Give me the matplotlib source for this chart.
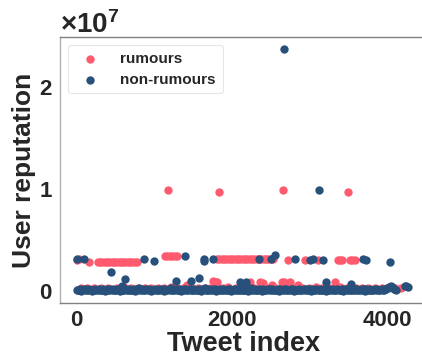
import matplotlib
matplotlib.use("Agg")
import matplotlib.pyplot as plt
from matplotlib.ticker import ScalarFormatter

plt.rcParams['font.family'] = ['Liberation Sans', 'DejaVu Sans']
plt.rcParams['font.weight'] = 'bold'
plt.rcParams['axes.labelweight'] = 'bold'
plt.rcParams['mathtext.fontset'] = 'custom'
plt.rcParams['mathtext.rm'] = 'Liberation Sans:bold'
plt.rcParams['mathtext.bf'] = 'Liberation Sans:bold'
plt.rcParams['mathtext.default'] = 'bf'
TEXT = '#262626'
plt.rcParams['text.color'] = TEXT
plt.rcParams['axes.labelcolor'] = TEXT
plt.rcParams['xtick.color'] = TEXT
plt.rcParams['ytick.color'] = TEXT

# ---------------- data ----------------
# rumours: (tweet index, user reputation)
rum_high = [(1178, 9.9e6), (1836, 9.7e6), (2662, 9.9e6), (3493, 9.7e6)]
rum_band = [(0, 3.05e6), (30, 3.1e6), (155, 2.85e6),
            (270, 2.85e6), (300, 2.85e6), (330, 2.85e6), (360, 2.85e6),
            (390, 2.85e6), (420, 2.85e6), (450, 2.85e6), (480, 2.85e6),
            (510, 2.85e6), (540, 2.85e6), (570, 2.85e6), (600, 2.85e6),
            (630, 2.85e6), (660, 2.85e6), (690, 2.85e6), (720, 2.85e6),
            (750, 2.85e6), (775, 2.85e6),
            (1135, 3.45e6), (1170, 3.45e6), (1200, 3.45e6), (1235, 3.45e6),
            (1265, 3.45e6), (1290, 3.45e6),
            (1806, 3.15e6), (1840, 3.15e6), (1870, 3.15e6), (1900, 3.15e6),
            (1930, 3.15e6), (1960, 3.15e6), (1990, 3.15e6), (2020, 3.15e6),
            (2050, 3.15e6), (2080, 3.15e6), (2110, 3.15e6), (2140, 3.15e6),
            (2170, 3.15e6), (2200, 3.15e6), (2230, 3.15e6), (2260, 3.15e6),
            (2290, 3.15e6), (2320, 3.15e6), (2350, 3.15e6), (2380, 3.15e6),
            (2410, 3.15e6), (2440, 3.15e6), (2470, 3.15e6), (2500, 3.15e6),
            (2530, 3.15e6),
            (2722, 3.05e6), (2940, 3.05e6), (3110, 3.05e6), (3367, 3.05e6),
            (3400, 3.05e6), (3420, 3.05e6), (3522, 3.05e6), (3555, 3.05e6),
            (3587, 3.05e6)]
rum_mid = [(1755, 0.95e6), (1790, 0.85e6), (1806, 0.8e6), (2232, 0.85e6),
           (2361, 0.85e6), (2400, 0.75e6), (2516, 0.55e6), (2645, 0.85e6),
           (2670, 0.85e6), (2748, 0.85e6), (2851, 0.55e6), (3329, 0.85e6),
           (1420, 0.55e6)]
rum_low = [(60, 2.5e5), (140, 3.0e5), (230, 2.5e5), (320, 2.8e5), (410, 3.0e5),
           (520, 2.6e5), (610, 3.2e5), (700, 2.5e5), (790, 3.0e5), (880, 2.7e5),
           (960, 2.5e5), (1050, 3.0e5), (1130, 2.8e5), (1220, 3.3e5),
           (1310, 2.6e5), (1400, 3.5e5), (1480, 2.8e5), (1560, 3.0e5),
           (1650, 2.5e5), (1720, 3.0e5), (1880, 2.8e5), (1950, 3.2e5),
           (2050, 2.6e5), (2120, 3.0e5), (2290, 2.8e5), (2450, 3.0e5),
           (2560, 2.7e5), (2700, 3.1e5), (2800, 2.6e5), (2900, 3.0e5),
           (3000, 2.9e5), (3080, 3.3e5), (3160, 2.6e5), (3250, 3.0e5),
           (3300, 2.7e5), (3400, 3.2e5), (3480, 2.8e5), (3600, 3.0e5),
           (3680, 2.5e5), (3760, 2.8e5), (3850, 2.6e5), (3930, 3.0e5),
           (4010, 2.5e5), (4100, 2.8e5), (4180, 3.0e5)]

# non-rumours: (tweet index, user reputation)
non_high = [(2671, 2.37e7), (3118, 9.9e6)]
non_band = [(4, 3.1e6), (90, 3.1e6), (864, 3.1e6), (993, 2.9e6),
            (1393, 3.45e6), (1638, 3.1e6), (1645, 2.9e6), (1755, 3.1e6),
            (2348, 3.1e6), (2503, 3.1e6), (2555, 3.5e6), (2813, 3.1e6),
            (3006, 3.0e6), (3045, 3.1e6), (3174, 3.0e6), (3690, 3.1e6),
            (3729, 3.0e6), (4039, 2.85e6)]
non_mid = [(439, 1.8e6), (619, 1.15e6), (1277, 0.95e6), (1471, 0.95e6),
           (1574, 1.2e6), (2103, 0.85e6), (2180, 0.85e6), (3213, 0.85e6),
           (3535, 0.7e6), (580, 0.5e6), (4232, 4.5e5), (4250, 5.0e5),
           (4270, 4.0e5)]
# dense low band: one sample every 15 tweets, reputation in units of 1e5
non_low_e5 = [
    0.2, 1.0, 0.4, 1.6, 0.1, 0.8, 1.2, 0.3, 1.9, 0.6, 0.2, 1.4, 0.9, 0.1, 1.1,
    0.5, 1.7, 0.3, 0.8, 1.3, 0.2, 1.0, 0.6, 1.8, 0.1, 0.9, 1.5, 0.4, 0.7, 1.2,
    0.3, 2.0, 0.5, 1.1, 0.2, 1.6, 0.8, 0.1, 1.3, 0.6, 1.0, 0.3, 1.7, 0.4, 0.9,
    1.4, 0.2, 1.1, 0.7, 1.9, 0.1, 0.8, 1.2, 0.5, 2.6, 0.3, 1.0, 1.5, 0.2, 0.9,
    1.3, 0.4, 1.7, 0.6, 0.1, 1.1, 0.8, 1.4, 0.3, 1.0, 0.5, 1.8, 0.2, 1.2, 0.7,
    0.1, 1.6, 0.9, 0.4, 1.3, 0.6, 2.1, 0.2, 1.0, 0.5, 1.4, 0.3, 1.1, 0.8, 1.7,
    0.1, 0.9, 1.2, 0.4, 1.5, 0.7, 0.2, 1.3, 0.6, 1.0, 0.3, 1.8, 0.5, 1.1, 0.2,
    1.6, 0.8, 0.1, 1.2, 0.4, 2.4, 0.6, 1.0, 0.3, 1.5, 0.7, 0.2, 1.3, 0.9, 1.7,
    0.1, 1.1, 0.5, 1.4, 0.3, 0.8, 1.9, 0.2, 1.0, 0.6, 1.2, 0.4, 1.6, 0.1, 0.9,
    1.3, 0.5, 1.8, 0.3, 1.1, 0.7, 0.2, 1.5, 0.8, 1.0, 0.4, 1.7, 0.1, 1.2, 0.6,
    2.2, 0.3, 0.9, 1.4, 0.2, 1.1, 0.5, 1.6, 0.8, 0.1, 1.3, 0.4, 1.0, 0.7, 1.8,
    0.2, 1.2, 0.5, 1.5, 0.3, 0.9, 1.1, 0.6, 2.0, 0.1, 1.4, 0.8, 0.3, 1.2, 0.5,
    1.7, 0.2, 1.0, 0.6, 1.3, 0.4, 1.9, 0.1, 0.8, 1.1, 0.5, 1.5, 0.3, 1.0, 0.7,
    1.6, 0.2, 1.2, 0.4, 0.9, 1.4, 0.1, 1.8, 0.6, 1.1, 0.3, 1.3, 0.8, 0.2, 1.7,
    0.5, 1.0, 0.4, 1.5, 0.1, 1.2, 0.7, 1.9, 0.3, 0.9, 1.4, 0.2, 1.1, 0.6, 1.6,
    0.4, 1.0, 0.8, 1.3, 0.1, 1.5, 0.5, 1.2, 0.3, 1.8, 0.7, 0.2, 1.1, 0.9, 1.4,
    0.3, 1.6, 0.6, 1.0, 0.2, 1.3, 0.5, 1.7, 0.1, 1.2, 0.8, 0.4, 1.5, 0.6, 1.0,
    0.3, 1.4, 0.7, 1.9, 0.2, 1.1, 0.5, 1.6, 0.9, 0.3, 1.3, 1.8, 2.5, 3.2, 3.8,
    4.2, 3.6, 2.4, 1.5, 0.8]
non_low_idx = list(range(0, 15 * len(non_low_e5), 15))
non_low_val = [v * 1e5 for v in non_low_e5]

labels = ["rumours", "non-rumours"]
colors = ["#FF5A6E", "#27507A"]

# ---------------- plot ----------------
rum_pts = rum_high + rum_band + rum_mid + rum_low
non_pts = non_high + non_band + non_mid + list(zip(non_low_idx, non_low_val))

fig = plt.figure(figsize=(4.22, 3.64), dpi=100)
ax = fig.add_axes([0.142, 0.168, 0.87, 0.730])

ax.scatter([p[0] for p in rum_pts], [p[1] for p in rum_pts], s=36,
           color=colors[0], label=labels[0], linewidths=0, zorder=2)
ax.scatter([p[0] for p in non_pts], [p[1] for p in non_pts], s=36,
           color=colors[1], label=labels[1], linewidths=0, zorder=3)

ax.set_xlim(-215, 4516)
ax.set_ylim(-1.2e6, 2.49e7)
ax.set_xticks([0, 2000, 4000])
ax.set_yticks([0, 1e7, 2e7])

fmt = ScalarFormatter(useMathText=True)
fmt.set_powerlimits((0, 0))
ax.yaxis.set_major_formatter(fmt)
ax.yaxis.get_offset_text().set_fontsize(20)
ax.yaxis.get_offset_text().set_fontweight('bold')

ax.tick_params(axis='both', length=0, labelsize=16, pad=5)
for lab in ax.get_xticklabels() + ax.get_yticklabels():
    lab.set_fontweight('bold')

ax.set_xlabel("Tweet index", fontsize=19.5, fontweight='bold', labelpad=0)
ax.set_ylabel("User reputation", fontsize=19, fontweight='bold', labelpad=2)

for side in ['left', 'bottom', 'top', 'right']:
    ax.spines[side].set_color('#808080')
    ax.spines[side].set_linewidth(1.0)
ax.spines['left'].set_color('#b0b0b0')

leg = ax.legend(loc='upper left', handlelength=2.0,
                handletextpad=1.0, frameon=True, borderaxespad=0.5,
                labelspacing=0.45, borderpad=0.45,
                prop={'weight': 'bold', 'size': 11})
leg.get_frame().set_edgecolor('#e0e0e0')
leg.get_frame().set_linewidth(0.8)
for t in leg.get_texts():
    t.set_color(TEXT)

fig.savefig("out.png", dpi=100)
